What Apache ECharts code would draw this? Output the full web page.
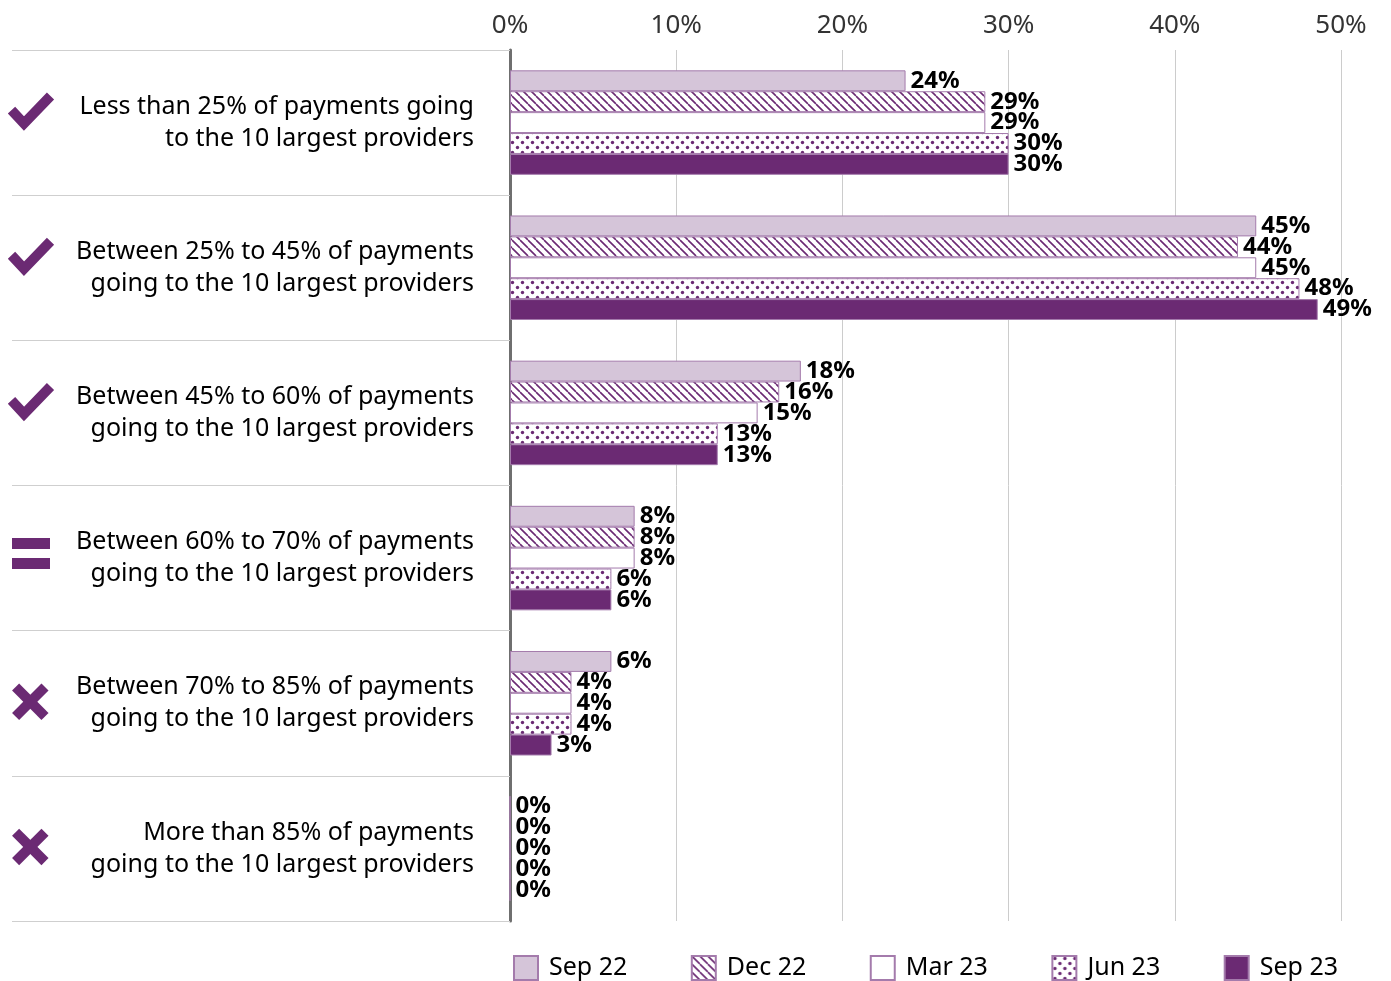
<!DOCTYPE html>
<html>
<head>
<meta charset="utf-8">
<script src="https://cdn.jsdelivr.net/npm/echarts@6/dist/echarts.min.js"></script>
<style>
  html, body { margin: 0; padding: 0; background: #ffffff; }
  #chart { width: 1391px; height: 981px; }
</style>
</head>
<body>
<div id="chart"></div>
<script>
// Share of payments going to the 10 largest providers, by survey period
const categories = [
  'Less than 25% of payments going\nto the 10 largest providers',
  'Between 25% to 45% of payments\ngoing to the 10 largest providers',
  'Between 45% to 60% of payments\ngoing to the 10 largest providers',
  'Between 60% to 70% of payments\ngoing to the 10 largest providers',
  'Between 70% to 85% of payments\ngoing to the 10 largest providers',
  'More than 85% of payments\ngoing to the 10 largest providers'
];
const categoryIcons = ['check', 'check', 'check', 'equal', 'cross', 'cross'];

const seriesNames = ['Sep 22', 'Dec 22', 'Mar 23', 'Jun 23', 'Sep 23'];
const sep22 = [23.8, 44.9, 17.5, 7.5, 6.1, 0];
const dec22 = [28.6, 43.8, 16.2, 7.5, 3.7, 0];
const mar23 = [28.6, 44.9, 14.9, 7.5, 3.7, 0];
const jun23 = [30.0, 47.5, 12.5, 6.1, 3.7, 0];
const sep23 = [30.0, 48.6, 12.5, 6.1, 2.5, 0];

const xTickLabels = ['0%', '10%', '20%', '30%', '40%', '50%'];

const PURPLE = '#6B2A73';
const EDGE = '#A47BAC';
const LIGHT = '#D5C5D9';
const FONT = '"Noto Sans", sans-serif';

// Repeating fill tiles for the hatched and dotted bars
function stripeTile() {
  const c = document.createElement('canvas');
  c.width = 8; c.height = 8;
  const g = c.getContext('2d');
  g.fillStyle = '#ffffff';
  g.fillRect(0, 0, 8, 8);
  g.strokeStyle = PURPLE;
  g.lineWidth = 1.6;
  g.beginPath();
  for (const k of [-8, 0, 8]) { g.moveTo(k, 0); g.lineTo(k + 8, 8); }
  g.stroke();
  return c;
}
function dotTile() {
  const c = document.createElement('canvas');
  c.width = 10; c.height = 10;
  const g = c.getContext('2d');
  g.fillStyle = '#ffffff';
  g.fillRect(0, 0, 10, 10);
  g.fillStyle = PURPLE;
  for (const [x, y] of [[2.5, 2.5], [7.5, 7.5]]) {
    g.beginPath(); g.arc(x, y, 1.7, 0, Math.PI * 2); g.fill();
  }
  return c;
}

const fills = [
  LIGHT,
  { image: stripeTile(), repeat: 'repeat' },
  '#ffffff',
  { image: dotTile(), repeat: 'repeat' },
  PURPLE
];
const values = [sep22, dec22, mar23, jun23, sep23];

const chart = echarts.init(document.getElementById('chart'));

const series = seriesNames.map((name, i) => ({
  name: name,
  type: 'bar',
  data: values[i],
  barGap: '0%',
  barCategoryGap: '28%',
  itemStyle: { color: fills[i], borderColor: EDGE, borderWidth: 1 },
  label: {
    show: true,
    position: 'right',
    distance: 5,
    color: '#000000',
    fontFamily: FONT,
    fontWeight: 'bold',
    fontSize: 24,
    formatter: p => Math.round(p.value) + '%'
  },
  emphasis: { disabled: true }
}));

chart.setOption({
  animation: false,
  backgroundColor: '#ffffff',
  grid: { left: 510, right: 50, top: 50, bottom: 60, containLabel: false },
  xAxis: {
    type: 'value',
    position: 'top',
    min: 0,
    max: 50,
    interval: 10,
    axisLine: { show: false },
    axisTick: { show: false },
    axisLabel: {
      margin: 11,
      fontFamily: FONT,
      fontSize: 26,
      color: '#333333',
      formatter: v => xTickLabels[Math.round(v / 10)]
    },
    splitLine: { lineStyle: { color: '#cccccc', width: 1 } }
  },
  yAxis: {
    type: 'category',
    data: categories,
    inverse: true,
    axisLine: { lineStyle: { color: '#6f6f6f', width: 3 } },
    axisTick: { show: true, length: 498, lineStyle: { color: '#cfcfcf', width: 1 } },
    axisLabel: {
      margin: 36,
      fontFamily: FONT,
      fontSize: 25,
      lineHeight: 32,
      color: '#000000',
      align: 'right'
    }
  },
  legend: {
    data: seriesNames,
    left: 508,
    top: 950,
    itemWidth: 24,
    itemHeight: 24,
    itemGap: 63.5,
    icon: 'rect',
    selectedMode: false,
    textStyle: { fontFamily: FONT, fontSize: 25, color: '#000000', padding: [0, 0, 0, 6] }
  },
  series: series
});

// Status icons beside each category label
function iconFor(kind, cy) {
  const style = { stroke: PURPLE, lineWidth: 10, fill: null, lineCap: 'butt', lineJoin: 'miter' };
  if (kind === 'check') {
    return [{ type: 'polyline', shape: { points: [[11.5, cy - 12.5], [24, cy + 1], [50.5, cy - 26.5]] }, style: style, silent: true }];
  }
  if (kind === 'equal') {
    return [
      { type: 'rect', shape: { x: 12, y: cy - 20, width: 38, height: 11 }, style: { fill: PURPLE }, silent: true },
      { type: 'rect', shape: { x: 12, y: cy, width: 38, height: 11 }, style: { fill: PURPLE }, silent: true }
    ];
  }
  const cx = 30.3, c = cy - 1.5, d = 14.7;
  return [
    { type: 'line', shape: { x1: cx - d, y1: c - d, x2: cx + d, y2: c + d }, style: style, silent: true },
    { type: 'line', shape: { x1: cx - d, y1: c + d, x2: cx + d, y2: c - d }, style: style, silent: true }
  ];
}

const graphics = [];
categories.forEach((cat, i) => {
  const cy = chart.convertToPixel({ yAxisIndex: 0 }, i);
  graphics.push(...iconFor(categoryIcons[i], cy));
});
chart.setOption({ graphic: graphics });
</script>
</body>
</html>
